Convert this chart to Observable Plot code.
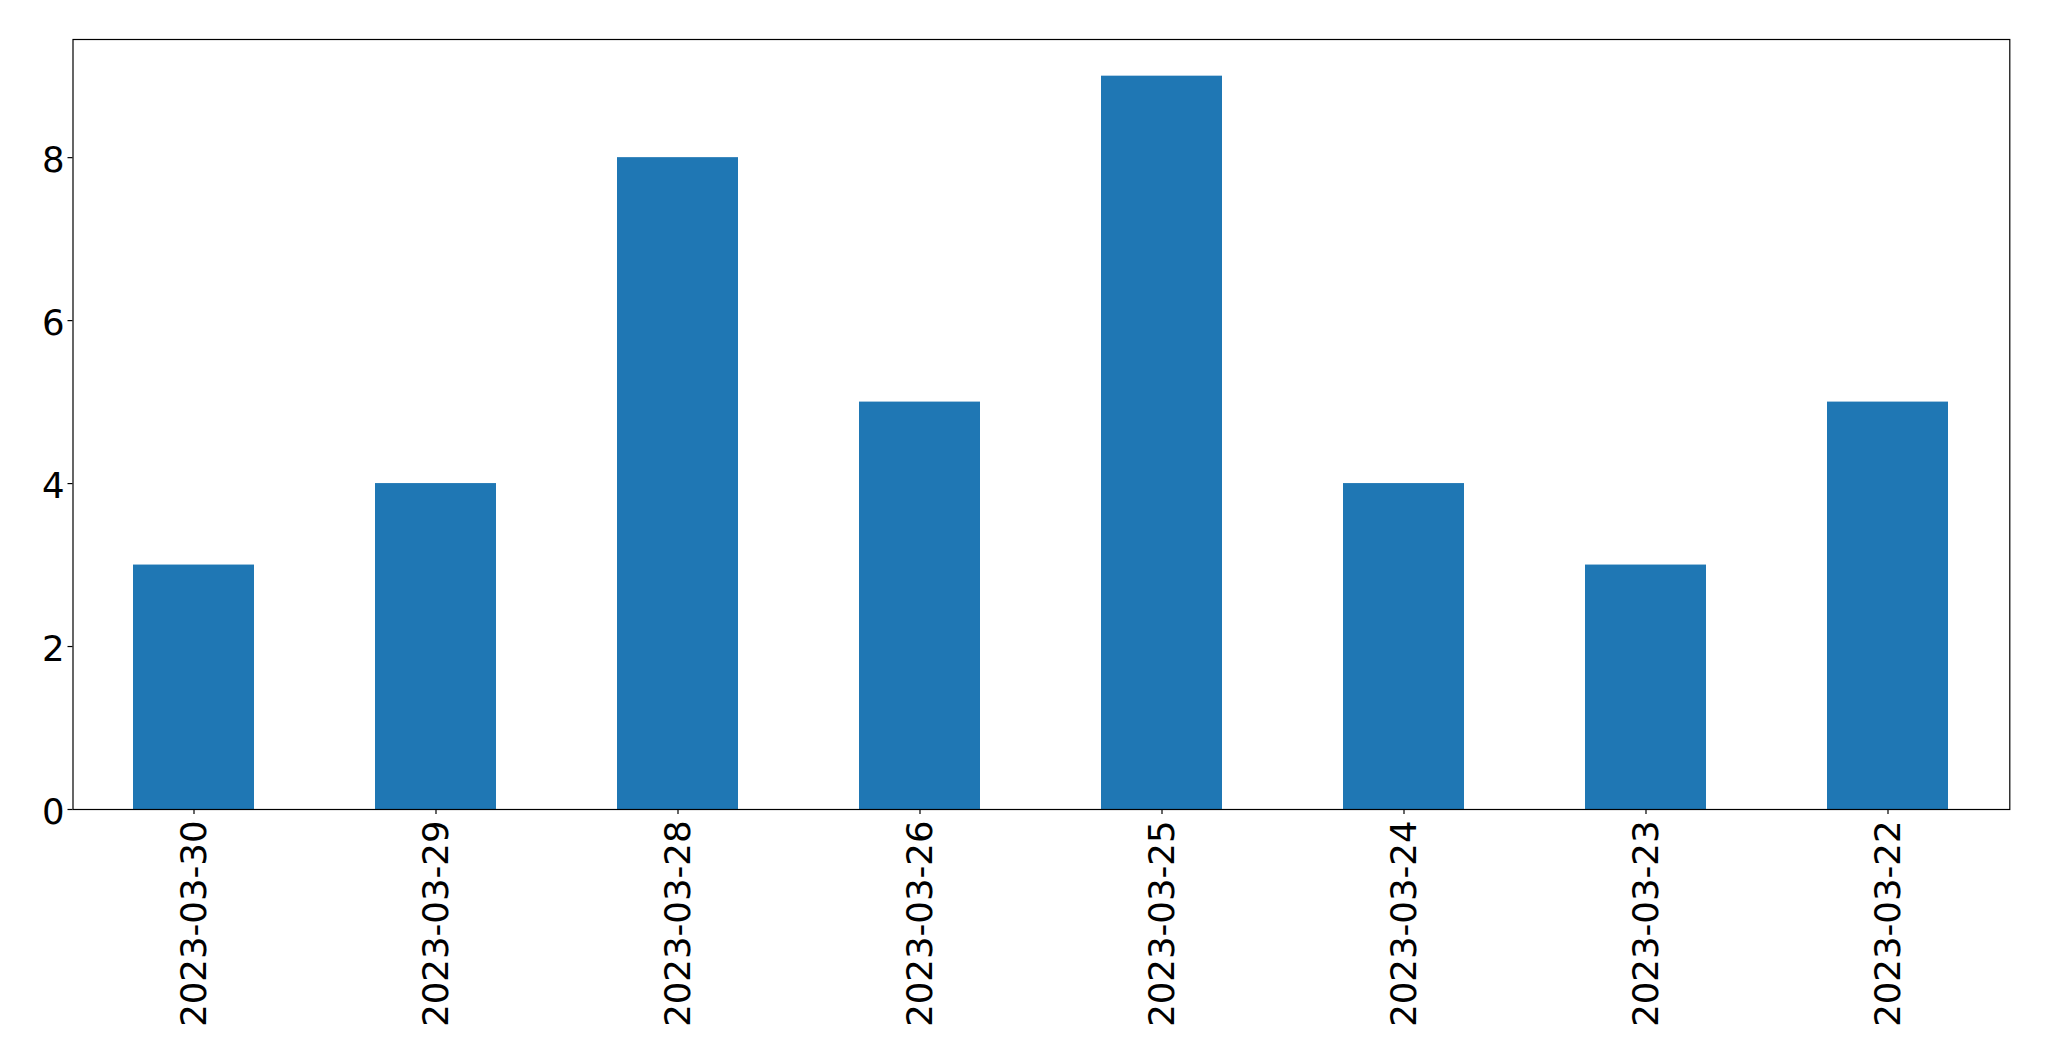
<!DOCTYPE html>
<html>
<head>
<meta charset="utf-8">
<script src="https://cdn.jsdelivr.net/npm/d3@7"></script>
<script src="https://cdn.jsdelivr.net/npm/@observablehq/plot@0.6"></script>
<style>
  html, body { margin: 0; padding: 0; background: #fff; }
  #chart svg { display: block; }
  #chart svg text { fill: #000; }
</style>
</head>
<body>
<div id="chart"></div>
<script>
const dates = ["2023-03-30", "2023-03-29", "2023-03-28", "2023-03-26", "2023-03-25", "2023-03-24", "2023-03-23", "2023-03-22"];
const counts = [3, 4, 8, 5, 9, 4, 3, 5];
const yTicks = [0, 2, 4, 6, 8];

const data = dates.map((d, i) => ({date: d, count: counts[i]}));

const chart = Plot.plot({
  width: 2049,
  height: 1061,
  marginLeft: 72.5,
  marginRight: 39.7,
  marginTop: 39,
  marginBottom: 252,
  style: {fontFamily: "DejaVu Sans", fontSize: "35.5px", color: "#000", background: "#fff"},
  x: {domain: dates, paddingInner: 0.5, paddingOuter: 0.25, label: null},
  y: {domain: [0, 9.45], label: null},
  marks: [
    Plot.barY(data, {x: "date", y: "count", fill: "#1f77b4"}),
    Plot.frame({stroke: "#000", strokeWidth: 1.2}),
    // tick marks
    Plot.axisY({ticks: yTicks, tickSize: 5, tickFormat: () => "", label: null, strokeWidth: 1.2}),
    Plot.axisX({tickSize: 5, tickFormat: () => "", label: null, strokeWidth: 1.2}),
    // tick labels
    Plot.axisY({ticks: yTicks, tickSize: 0, tickPadding: 8.5, dy: 3, label: null, fontSize: 35.5}),
    Plot.axisX({tickRotate: -90, tickSize: 0, tickPadding: 11, dx: 1, label: null, fontSize: 35.5})
  ]
});
document.getElementById("chart").appendChild(chart);
</script>
</body>
</html>
